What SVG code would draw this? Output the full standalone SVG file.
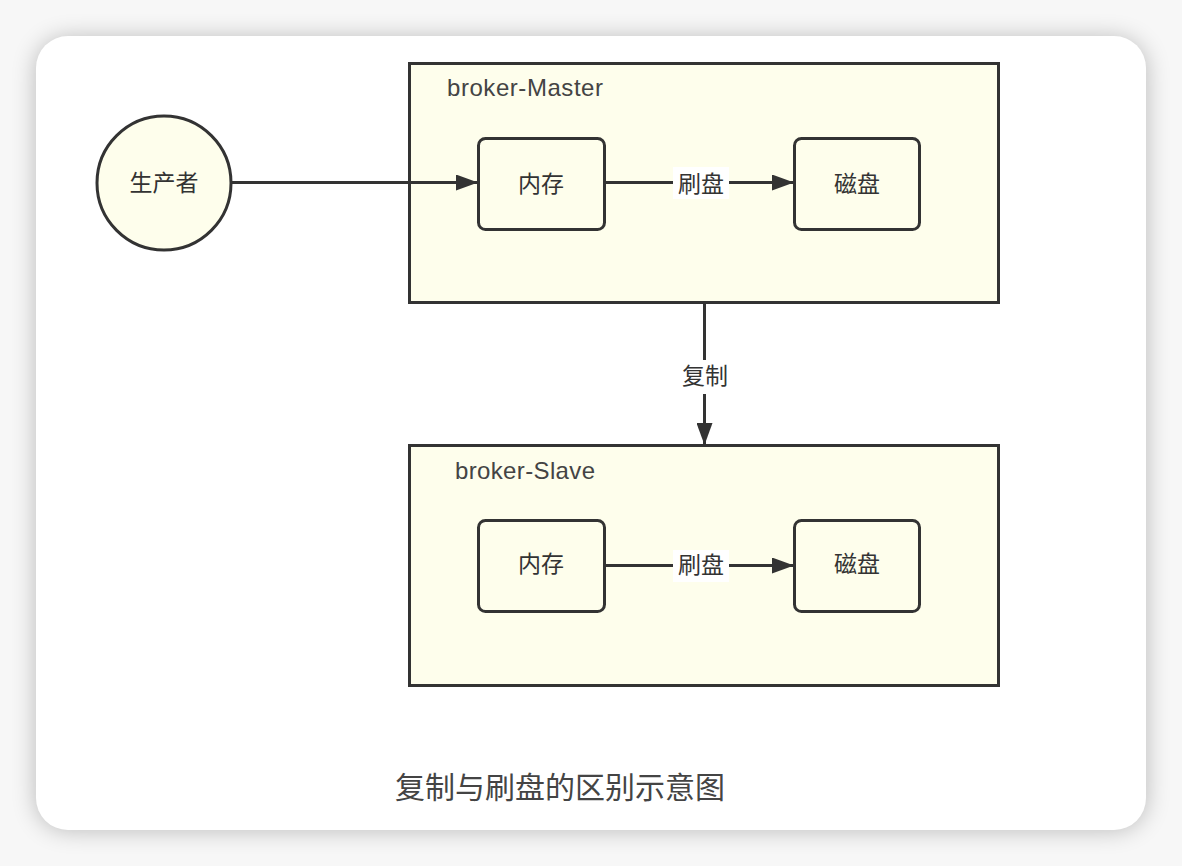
<svg xmlns="http://www.w3.org/2000/svg" width="1182" height="866" viewBox="0 0 1182 866">
<defs>
<filter id="sh" x="-10%" y="-10%" width="120%" height="120%">
<feGaussianBlur stdDeviation="12"/>
</filter>
<marker id="ah" markerWidth="22" markerHeight="16" refX="21" refY="8" orient="auto" markerUnits="userSpaceOnUse">
<path d="M0,0 L22,8 L0,16 Z" fill="#333"/>
</marker>
<style>
.grp{fill:#fefeec;stroke:#333;stroke-width:3}
.box{fill:#fefeec;stroke:#333;stroke-width:3}
.t{font-family:"Liberation Sans","Noto Sans CJK SC",sans-serif;font-size:24px;fill:#444}
.lbl{font-family:"Liberation Sans","Noto Sans CJK SC",sans-serif;font-size:23px;fill:#333;text-anchor:middle;dominant-baseline:central}
.edge{stroke:#333;stroke-width:3;fill:none}
</style>
</defs>
<rect width="1182" height="866" fill="#f7f7f7"/>
<rect x="36" y="38" width="1110" height="792" rx="32" fill="#000" opacity="0.25" filter="url(#sh)"/>
<rect x="36" y="36" width="1110" height="794" rx="32" fill="#fff"/>

<g id="master">
<rect class="grp" x="409.5" y="63.5" width="589" height="239"/>
<text class="t" x="447" y="96" textLength="156">broker-Master</text>
</g>
<g id="slave">
<rect class="grp" x="409.5" y="445.5" width="589" height="240"/>
<text class="t" x="455" y="479" textLength="140">broker-Slave</text>
</g>
<g id="producer">
<circle cx="164" cy="183" r="67" fill="#fefeec" stroke="#333" stroke-width="3"/>
<text class="lbl" x="164" y="183">生产者</text>
</g>
<g id="m-mem">
<rect class="box" x="478.5" y="138.5" width="126" height="91" rx="7"/>
<text class="lbl" x="541" y="184">内存</text>
</g>
<g id="m-disk">
<rect class="box" x="794.5" y="138.5" width="125" height="91" rx="7"/>
<text class="lbl" x="857" y="184">磁盘</text>
</g>
<g id="s-mem">
<rect class="box" x="478.5" y="520.5" width="126" height="91" rx="7"/>
<text class="lbl" x="541" y="564">内存</text>
</g>
<g id="s-disk">
<rect class="box" x="794.5" y="520.5" width="125" height="91" rx="7"/>
<text class="lbl" x="857" y="564">磁盘</text>
</g>

<g id="connectors">
<line class="edge" x1="231" y1="182.5" x2="477" y2="182.5" marker-end="url(#ah)"/>
<line class="edge" x1="605" y1="182.5" x2="793" y2="182.5" marker-end="url(#ah)"/>
<rect x="673" y="167" width="56" height="32" fill="#fff"/>
<text class="lbl" x="701" y="184">刷盘</text>
<line class="edge" x1="605" y1="565.5" x2="793" y2="565.5" marker-end="url(#ah)"/>
<rect x="673" y="550" width="56" height="32" fill="#fff"/>
<text class="lbl" x="701" y="565">刷盘</text>
<line class="edge" x1="704.5" y1="303" x2="704.5" y2="444" marker-end="url(#ah)"/>
<rect x="676" y="360" width="56" height="34" fill="#fff"/>
<text class="lbl" x="705" y="376">复制</text>
</g>
<text x="560" y="787" font-family="'Liberation Sans','Noto Sans CJK SC',sans-serif" font-size="30" fill="#444" text-anchor="middle" dominant-baseline="central">复制与刷盘的区别示意图</text>
</svg>
